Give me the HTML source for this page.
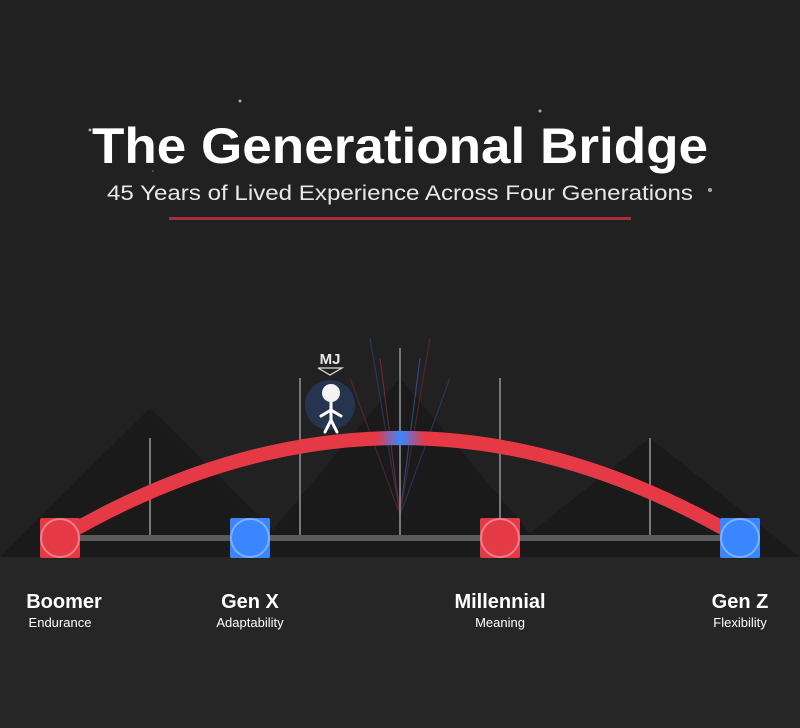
<!DOCTYPE html>
<html><head><style>
html,body{margin:0;padding:0;background:#222;}
svg{display:block;font-family:"Liberation Sans",sans-serif;}
</style></head><body>
<svg width="800" height="728" viewBox="0 0 800 728" xmlns="http://www.w3.org/2000/svg">
<defs>
<linearGradient id="arc" x1="0" x2="800" y1="0" y2="0" gradientUnits="userSpaceOnUse">
<stop offset="0.47" stop-color="#e63946"/>
<stop offset="0.5" stop-color="#3a86ff"/>
<stop offset="0.53" stop-color="#e63946"/>
</linearGradient>
</defs>
<rect width="800" height="728" fill="#212121"/>
<rect y="557" width="800" height="171" fill="#262626"/>
<circle cx="240" cy="101" r="1.5" fill="#aaa"/>
<circle cx="540" cy="111" r="1.5" fill="#aaa"/>
<circle cx="90" cy="130" r="1.5" fill="#aaa"/>
<circle cx="710" cy="190" r="2" fill="#aaa"/>
<circle cx="153" cy="171" r="1" fill="#3a5a99"/>
<text x="92" y="163" textLength="616" lengthAdjust="spacingAndGlyphs" fill="#fff" font-size="50" font-weight="bold">The Generational Bridge</text>
<text x="107" y="200" textLength="586" lengthAdjust="spacingAndGlyphs" fill="#e8e8e8" font-size="21">45 Years of Lived Experience Across Four Generations</text>
<rect x="169" y="217" width="462" height="3" fill="#a3303a"/>
<polygon points="0,557 150,408 300,557" fill="#1a1a1a"/>
<polygon points="250,557 400,378 550,557" fill="#1a1a1a"/>
<polygon points="500,557 650,438 800,557" fill="#1a1a1a"/>
<g stroke-width="1.2" opacity="0.55">
<line x1="400" y1="515" x2="370" y2="338" stroke="#2c4a8a"/>
<line x1="400" y1="515" x2="380" y2="358" stroke="#a83040"/>
<line x1="400" y1="515" x2="350" y2="378" stroke="#7a2a33"/>
<line x1="400" y1="515" x2="420" y2="358" stroke="#3a6acc"/>
<line x1="400" y1="515" x2="430" y2="338" stroke="#7a2a33"/>
<line x1="400" y1="515" x2="450" y2="378" stroke="#2c4a8a"/>
</g>
<g stroke="#777" stroke-width="2">
<line x1="150" y1="438" x2="150" y2="538"/>
<line x1="300" y1="378" x2="300" y2="538"/>
<line x1="400" y1="348" x2="400" y2="538"/>
<line x1="500" y1="378" x2="500" y2="538"/>
<line x1="650" y1="438" x2="650" y2="538"/>
</g>
<line x1="60" y1="538" x2="740" y2="538" stroke="#5a5a5a" stroke-width="6"/>
<path d="M60,538 Q400,338 740,538" fill="none" stroke="url(#arc)" stroke-width="14"/>
<g stroke="#ffffff" stroke-opacity="0.35" stroke-width="2">
<rect x="40" y="518" width="40" height="40" rx="2" fill="#e63946" stroke="none"/>
<circle cx="60" cy="538" r="19" fill="#e63946"/>
<rect x="230" y="518" width="40" height="40" rx="2" fill="#3a86ff" stroke="none"/>
<circle cx="250" cy="538" r="19" fill="#3a86ff"/>
<rect x="480" y="518" width="40" height="40" rx="2" fill="#e63946" stroke="none"/>
<circle cx="500" cy="538" r="19" fill="#e63946"/>
<rect x="720" y="518" width="40" height="40" rx="2" fill="#3a86ff" stroke="none"/>
<circle cx="740" cy="538" r="19" fill="#3a86ff"/>
</g>
<circle cx="330" cy="405" r="25" fill="#253550"/>
<g stroke="#fff" stroke-width="3" stroke-linecap="round" fill="none">
<line x1="331" y1="400" x2="331" y2="420"/>
<line x1="321" y1="416" x2="331" y2="410"/>
<line x1="341" y1="416" x2="331" y2="410"/>
<line x1="331" y1="420" x2="325" y2="432"/>
<line x1="331" y1="420" x2="337" y2="432"/>
</g>
<circle cx="331" cy="393" r="9" fill="#f4f4f4"/>
<text x="330" y="364" text-anchor="middle" fill="#e8e8e8" font-size="15" font-weight="bold">MJ</text>
<polyline points="318,368 330,375 342,368 318,368" fill="none" stroke="#ddd" stroke-width="1.2"/>
<g fill="#fff" text-anchor="middle">
<text x="64" y="608" font-size="20" font-weight="bold">Boomer</text>
<text x="60" y="627" font-size="13">Endurance</text>
<text x="250" y="608" font-size="20" font-weight="bold">Gen X</text>
<text x="250" y="627" font-size="13">Adaptability</text>
<text x="500" y="608" font-size="20" font-weight="bold">Millennial</text>
<text x="500" y="627" font-size="13">Meaning</text>
<text x="740" y="608" font-size="20" font-weight="bold">Gen Z</text>
<text x="740" y="627" font-size="13">Flexibility</text>
</g>
</svg>
</body></html>
